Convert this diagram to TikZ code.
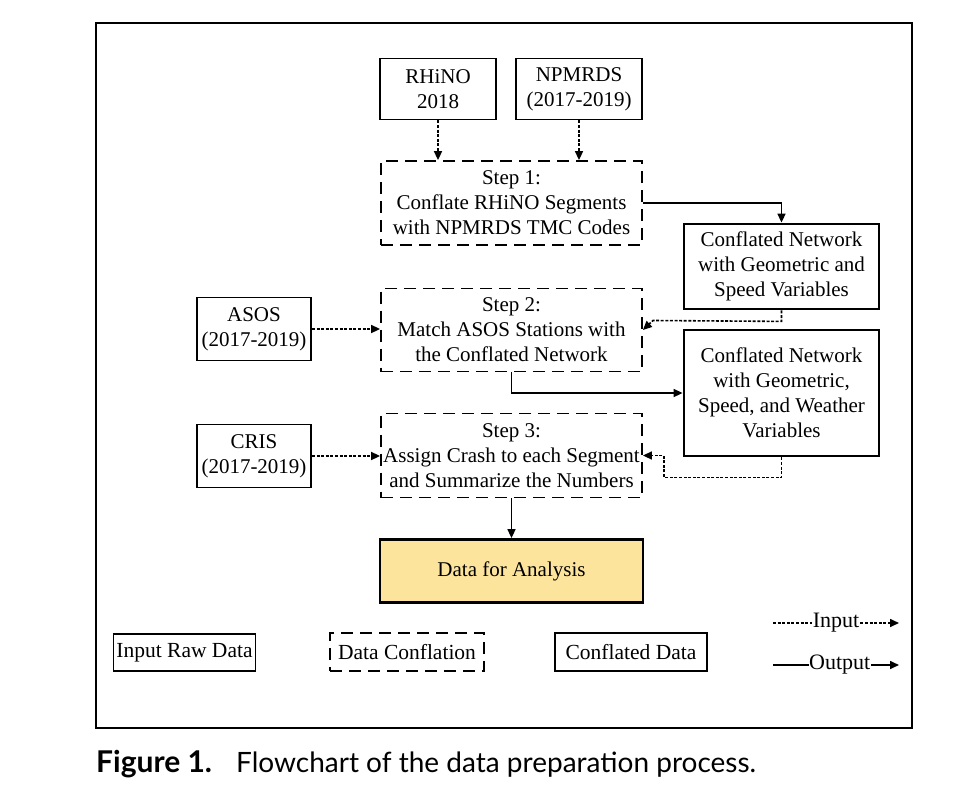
\documentclass[tikz,border=0pt]{standalone}
\usepackage{fontspec}
\setmainfont{Liberation Serif}
\newfontfamily\capfont{Lato}
\usetikzlibrary{arrows.meta,positioning}
\definecolor{datafill}{HTML}{FCE49C}
\tikzset{
  base/.style={inner sep=0pt, align=center, font=\fontsize{21}{25}\selectfont},
  rawbox/.style={base, draw, line width=1.8pt},
  confbox/.style={base, draw, line width=1.8pt, dash pattern=on 12pt off 7pt},
  databox/.style={base, draw, line width=2.8pt},
  inarrow/.style={line width=1.6pt, dash pattern=on 3pt off 1.6pt, -{Triangle[length=9pt,width=8pt]}},
  outarrow/.style={line width=1.6pt, -{Triangle[length=9pt,width=8pt]}},
  legtext/.style={inner sep=1pt, fill=white, font=\fontsize{22}{25}\selectfont},
}
\begin{document}
\begin{tikzpicture}[x=1pt,y=-1pt]
\useasboundingbox (0,0) rectangle (971,808);
\draw[line width=2pt] (96,23) rectangle (912,728);

\node[rawbox, minimum width=116pt, minimum height=61pt] (rhino) at (438,89) {RHiNO\\2018};
\node[rawbox, minimum width=126pt, minimum height=61pt] (npmrds) at (579,89) {NPMRDS\\(2017-2019)};
\node[confbox, minimum width=261pt, minimum height=84pt] (s1) at (511.5,203) {Step 1:\\Conflate RHiNO Segments\\with NPMRDS TMC Codes};
\node[databox, minimum width=195pt, minimum height=85pt] (cn1) at (781.5,266.5) {Conflated Network\\with Geometric and\\Speed Variables};
\node[rawbox, minimum width=114pt, minimum height=63pt] (asos) at (254,329) {ASOS\\(2017-2019)};
\node[confbox, minimum width=261pt, minimum height=83pt] (s2) at (511.5,330) {Step 2:\\Match ASOS Stations with\\the Conflated Network};
\node[databox, minimum width=195pt, minimum height=126pt] (cn2) at (781.5,393) {Conflated Network\\with Geometric,\\Speed, and Weather\\Variables};
\node[rawbox, minimum width=114pt, minimum height=63pt] (cris) at (254,456) {CRIS\\(2017-2019)};
\node[confbox, minimum width=261pt, minimum height=84pt] (s3) at (511.5,455.5) {Step 3:\\Assign Crash to each Segment\\and Summarize the Numbers};
\node[databox, fill=datafill, minimum width=263pt, minimum height=63pt] (data) at (511.5,571) {Data for Analysis};

% legend boxes
\node[rawbox, minimum width=142pt, minimum height=37pt, font=\fontsize{21.5}{25}\selectfont] (lraw) at (184.5,652.5) {Input Raw Data};
\node[confbox, minimum width=154pt, minimum height=38pt, font=\fontsize{21.5}{25}\selectfont] (lconf) at (407,652) {Data Conflation};
\node[databox, minimum width=152pt, minimum height=38pt, font=\fontsize{21.5}{25}\selectfont] (ldata) at (631,652) {Conflated Data};

% connectors
\draw[inarrow] (rhino.south) -- (rhino.south |- s1.north);
\draw[inarrow] (npmrds.south) -- (npmrds.south |- s1.north);
\draw[outarrow] (s1.east) -| (cn1.north);
\draw[inarrow] (cn1.south) -- ++(0,11) -- (653,320.5) -- (s2.east);
\draw[inarrow] (asos.east) -- (asos.east -| s2.west);
\draw[outarrow] (s2.south) |- (cn2.west);
\draw[inarrow] (cn2.south) -- ++(0,20) -| (664,455.5) -- (s3.east);
\draw[inarrow] (cris.east) -- (cris.east -| s3.west);
\draw[outarrow] (s3.south) -- (s3.south |- data.north);

% legend lines
\coordinate (ia) at (773,623);
\coordinate (ib) at (899,623);
\coordinate (oa) at (773,665);
\coordinate (ob) at (899,665);
\draw[inarrow] (ia) -- (ib) node[legtext, pos=0.5, inner xsep=0.5pt] {Input};
\draw[outarrow] (oa) -- (ob) node[legtext, pos=0.53, inner xsep=0.5pt] {Output};

% caption
\node[anchor=base west, inner sep=0pt, font=\capfont\bfseries\fontsize{30}{32}\selectfont] (figlab) at (96,772) {Figure 1.};
\node[anchor=base west, inner sep=0pt, font=\capfont\fontsize{28}{32}\selectfont] (figcap) at (236,772) {Flowchart of the data preparation process.};
\end{tikzpicture}
\end{document}
